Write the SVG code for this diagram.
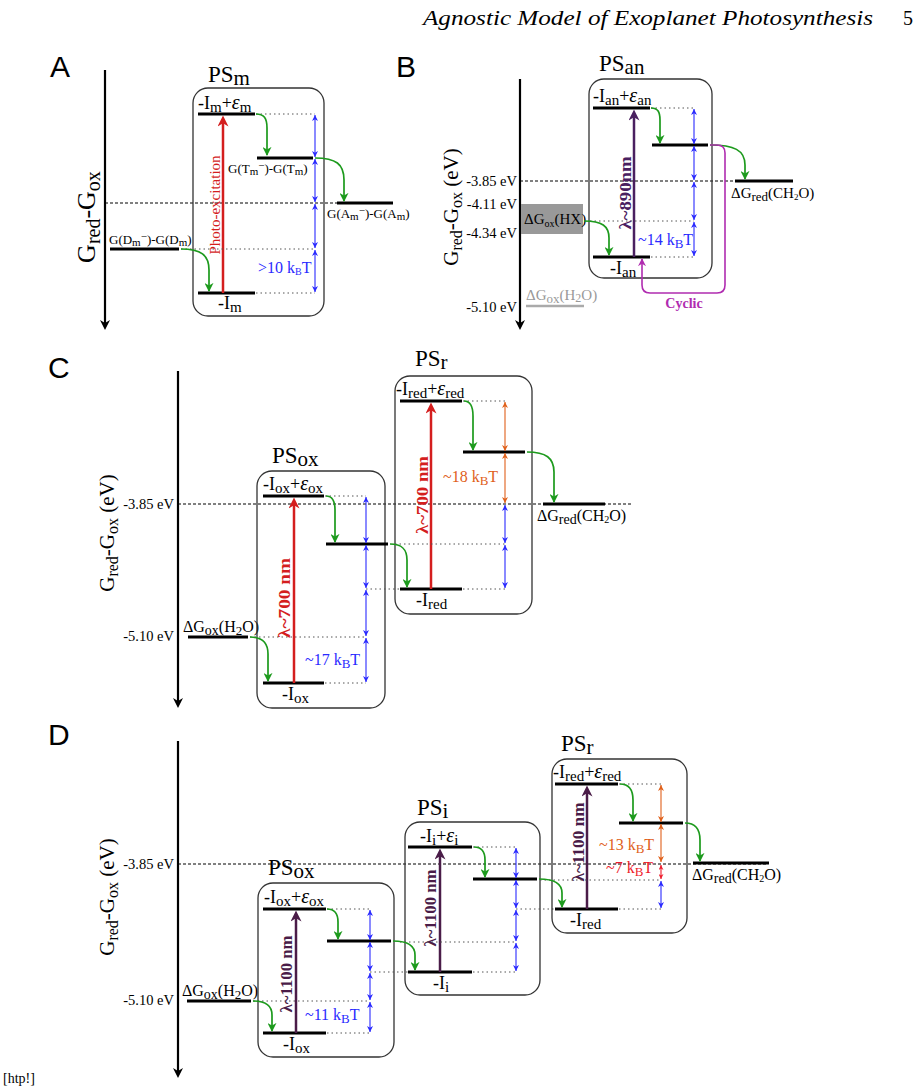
<svg xmlns="http://www.w3.org/2000/svg" width="922" height="1091" viewBox="0 0 922 1091">
<defs>
<style>
.t{font-family:"Liberation Serif","DejaVu Serif",serif}
.lt{font-family:"Liberation Sans",sans-serif;font-size:30px}
.lv{stroke:#000;stroke-width:3}
.dot{stroke:#555;stroke-width:1;stroke-dasharray:1.5 3}
.dash{stroke:#000;stroke-width:1;stroke-dasharray:3 2}
.box{fill:none;stroke:#333;stroke-width:1.3}
.ax{stroke:#000;stroke-width:2.2;marker-end:url(#axh)}
.g{fill:none;stroke:#1d9a1d;stroke-width:1.7;marker-end:url(#gh)}
.b{stroke:#2a2aff;stroke-width:1.1;marker-start:url(#bh);marker-end:url(#bh)}
.o{stroke:#e0601a;stroke-width:1.1;marker-start:url(#oh);marker-end:url(#oh)}
.rr{stroke:#ee1c2c;stroke-width:1.1;marker-start:url(#rh);marker-end:url(#rh)}
.red{stroke:#d41e1e;stroke-width:2.5;marker-end:url(#redH)}
.pur{stroke:#4a2060;stroke-width:2.5;marker-end:url(#purH)}
.dp{stroke:#4a1c48;stroke-width:2.5;marker-end:url(#dpH)}
.lab{font-size:18px}
.sb{font-size:15px}
.ep{font-style:italic;font-size:20px}
.sm{font-size:13px}
.tk{font-size:14.5px;text-anchor:end}
.ps{font-size:23px}
.pss{font-size:21px}
.axl{font-size:21px;text-anchor:middle}
.bl{fill:#2a2aff;font-size:16px}
.or{fill:#e0601a;font-size:16px}
.rd{fill:#ee1c2c;font-size:16px}
.lam{font-size:16px;font-weight:bold;text-anchor:middle}
</style>
<marker id="gh" viewBox="0 0 10 10" refX="9" refY="5" markerWidth="9" markerHeight="9" markerUnits="userSpaceOnUse" orient="auto"><path d="M0,0 L10,5 L0,10 L3,5 z" fill="#1d9a1d"/></marker>
<marker id="bh" viewBox="0 0 10 10" refX="10" refY="5" markerWidth="6" markerHeight="6" markerUnits="userSpaceOnUse" orient="auto-start-reverse"><path d="M0,0 L10,5 L0,10 L3,5 z" fill="#2a2aff"/></marker>
<marker id="oh" viewBox="0 0 10 10" refX="10" refY="5" markerWidth="6" markerHeight="6" markerUnits="userSpaceOnUse" orient="auto-start-reverse"><path d="M0,0 L10,5 L0,10 L3,5 z" fill="#e0601a"/></marker>
<marker id="rh" viewBox="0 0 10 10" refX="10" refY="5" markerWidth="5" markerHeight="5" markerUnits="userSpaceOnUse" orient="auto-start-reverse"><path d="M0,0 L10,5 L0,10 L3,5 z" fill="#ee1c2c"/></marker>
<marker id="redH" viewBox="0 0 10 10" refX="6" refY="5" markerWidth="13" markerHeight="11" markerUnits="userSpaceOnUse" orient="auto"><path d="M0,0 L10,5 L0,10 L3,5 z" fill="#d41e1e"/></marker>
<marker id="purH" viewBox="0 0 10 10" refX="6" refY="5" markerWidth="13" markerHeight="11" markerUnits="userSpaceOnUse" orient="auto"><path d="M0,0 L10,5 L0,10 L3,5 z" fill="#4a2060"/></marker>
<marker id="dpH" viewBox="0 0 10 10" refX="6" refY="5" markerWidth="13" markerHeight="11" markerUnits="userSpaceOnUse" orient="auto"><path d="M0,0 L10,5 L0,10 L3,5 z" fill="#4a1c48"/></marker>
<marker id="axh" viewBox="0 0 10 10" refX="6" refY="5" markerWidth="16" markerHeight="10" markerUnits="userSpaceOnUse" orient="auto"><path d="M0,0 L10,5 L0,10 L3,5 z" fill="#000"/></marker>
<marker id="mh" viewBox="0 0 10 10" refX="9" refY="5" markerWidth="8" markerHeight="9" markerUnits="userSpaceOnUse" orient="auto"><path d="M0,0 L10,5 L0,10 L3,5 z" fill="#b02cb0"/></marker>
</defs>
<rect width="922" height="1091" fill="#fff"/>

<!-- header -->
<text class="t" x="423" y="25" font-size="20" font-style="italic" textLength="450" lengthAdjust="spacingAndGlyphs">Agnostic Model of Exoplanet Photosynthesis</text>
<text class="t" x="903" y="25" font-size="20">5</text>
<text class="t" x="3" y="1083" font-size="14">[htp!]</text>

<!-- ================= PANEL A ================= -->
<g id="panelA">
<text class="lt" x="50" y="77">A</text>
<line class="ax" x1="105" y1="70" x2="105" y2="326"/>
<text class="t" font-size="26" text-anchor="middle" transform="translate(95,217) rotate(-90)">G<tspan font-size="20" dy="5">red</tspan><tspan dy="-5">-G</tspan><tspan font-size="20" dy="5">ox</tspan></text>
<line class="dash" x1="105" y1="203" x2="393" y2="203"/>
</g>
<g id="PSm">
<rect class="box" x="193" y="88" width="131" height="228" rx="15"/>
<text class="t ps" x="208" y="82">PS<tspan class="pss" dy="3">m</tspan></text>
<line class="lv" x1="198" y1="114" x2="255" y2="114"/>
<text class="t lab" x="198" y="109">-I<tspan class="sb" dy="3">m</tspan><tspan dy="-3">+</tspan><tspan class="ep">ε</tspan><tspan class="sb" dy="3">m</tspan></text>
<line class="lv" x1="257" y1="158" x2="313" y2="158"/>
<text class="t sm" x="228" y="173">G(T<tspan font-size="11" dy="2">m</tspan><tspan font-size="11" dy="-6">−</tspan><tspan dy="4">)-G(T</tspan><tspan font-size="11" dy="2">m</tspan><tspan dy="-2">)</tspan></text>
<line class="lv" x1="198" y1="293" x2="255" y2="293"/>
<text class="t lab" x="218" y="309">-I<tspan class="sb" dy="3">m</tspan></text>
<line class="red" x1="223" y1="293" x2="223" y2="120"/>
<text class="t" font-size="15" fill="#d41e1e" text-anchor="middle" transform="translate(220,205) rotate(-90)">Photo-excitation</text>
<line class="dot" x1="256" y1="114" x2="315" y2="114"/>
<line class="dot" x1="256" y1="293" x2="315" y2="293"/>
<line class="b" x1="315" y1="115" x2="315" y2="157"/>
<line class="b" x1="315" y1="159" x2="315" y2="202"/>
<line class="b" x1="315" y1="204" x2="315" y2="248"/>
<line class="b" x1="315" y1="250" x2="315" y2="292"/>
<text class="t bl" x="258" y="273">&gt;10 k<tspan font-size="10" dy="2">B</tspan><tspan dy="-2">T</tspan></text>
</g>
<g id="Am">
<line class="lv" x1="337" y1="203" x2="393" y2="203"/>
<text class="t sm" x="327" y="218">G(A<tspan font-size="11" dy="2">m</tspan><tspan font-size="11" dy="-6">−</tspan><tspan dy="4">)-G(A</tspan><tspan font-size="11" dy="2">m</tspan><tspan dy="-2">)</tspan></text>
</g>
<g id="Dm">
<line class="lv" x1="110" y1="249" x2="179" y2="249"/>
<text class="t sm" x="109" y="244">G(D<tspan font-size="11" dy="2">m</tspan><tspan font-size="11" dy="-6">−</tspan><tspan dy="4">)-G(D</tspan><tspan font-size="11" dy="2">m</tspan><tspan dy="-2">)</tspan></text>
<line class="dot" x1="181" y1="249" x2="315" y2="249"/>
</g>
<g id="connA">
<path class="g" d="M256,114 C264,114 267,118 267,128 L267,155"/>
<path class="g" d="M315,158 C336,158 344,164 344,180 L344,201"/>
<path class="g" d="M181,249 C201,249 209,255 209,270 L209,291"/>
</g>

<!-- ================= PANEL B ================= -->
<g id="panelB">
<text class="lt" x="396" y="77">B</text>
<line class="ax" x1="520" y1="79" x2="520" y2="326"/>
<text class="t axl" transform="translate(458,207) rotate(-90)">G<tspan font-size="16" dy="4">red</tspan><tspan dy="-4">-G</tspan><tspan font-size="16" dy="4">ox</tspan><tspan dy="-4"> (eV)</tspan></text>
<text class="t tk" x="517" y="186">-3.85 eV</text>
<text class="t tk" x="517" y="209">-4.11 eV</text>
<text class="t tk" x="517" y="238">-4.34 eV</text>
<text class="t tk" x="517" y="312">-5.10 eV</text>
<line class="dash" x1="520" y1="181" x2="793" y2="181"/>
</g>
<g id="HX">
<rect x="521" y="204" width="62" height="30" fill="#999"/>
<text class="t" x="524" y="224" font-size="15">ΔG<tspan font-size="10" dy="3">ox</tspan><tspan dy="-3">(HX)</tspan></text>
</g>
<g id="H2O_B">
<line x1="526" y1="306" x2="584" y2="306" stroke="#aaa" stroke-width="2.5"/>
<text class="t" x="526" y="300" font-size="15" fill="#999">ΔG<tspan font-size="13" dy="3">ox</tspan><tspan dy="-3">(H</tspan><tspan font-size="12" dy="2">2</tspan><tspan dy="-2">O)</tspan></text>
</g>
<g id="PSan">
<rect class="box" x="589" y="79" width="123" height="199" rx="15"/>
<text class="t ps" x="599" y="71">PS<tspan class="pss" dy="3">an</tspan></text>
<line class="lv" x1="593" y1="108" x2="650" y2="108"/>
<text class="t lab" x="593" y="102">-I<tspan class="sb" dy="3">an</tspan><tspan dy="-3">+</tspan><tspan class="ep">ε</tspan><tspan class="sb" dy="3">an</tspan></text>
<line class="lv" x1="652" y1="145" x2="708" y2="145"/>
<line class="lv" x1="593" y1="257" x2="650" y2="257"/>
<text class="t lab" x="610" y="274">-I<tspan class="sb" dy="3">an</tspan></text>
<line class="pur" x1="634" y1="257" x2="634" y2="114"/>
<text class="t lam" fill="#4a2060" transform="translate(631,193) rotate(-90)" textLength="73" lengthAdjust="spacingAndGlyphs">λ~890nm</text>
<line class="dot" x1="651" y1="108" x2="694" y2="108"/>
<line class="dot" x1="590" y1="221" x2="694" y2="221"/>
<line class="dot" x1="651" y1="257" x2="694" y2="257"/>
<line class="b" x1="694" y1="109" x2="694" y2="144"/>
<line class="b" x1="694" y1="146" x2="694" y2="180"/>
<line class="b" x1="694" y1="182" x2="694" y2="220"/>
<line class="b" x1="694" y1="222" x2="694" y2="256"/>
<text class="t bl" x="638" y="245">~14 k<tspan font-size="13" dy="3">B</tspan><tspan dy="-3">T</tspan></text>
</g>
<g id="CH2O_B">
<line class="lv" x1="735" y1="181" x2="793" y2="181"/>
<text class="t" x="731" y="198" font-size="15">ΔG<tspan font-size="13" dy="3">red</tspan><tspan dy="-3">(CH</tspan><tspan font-size="9" dy="2">2</tspan><tspan dy="-2">O)</tspan></text>
</g>
<g id="connB">
<path class="g" d="M651,108 C658,108 660,112 660,120 L660,143"/>
<path class="g" d="M710,145 C734,145 745,150 745,165 L745,179"/>
<path class="g" d="M584,221 C602,221 609,226 609,238 L609,255"/>
<path fill="none" stroke="#b02cb0" stroke-width="1.6" marker-end="url(#mh)" d="M710,145 L717,145 Q725,145 725,153 L725,285 Q725,293 717,293 L650,293 Q642,293 642,285 L642,259"/>
<text class="t" x="684" y="308" font-size="14" font-weight="bold" fill="#b02cb0" text-anchor="middle">Cyclic</text>
</g>

<!-- ================= PANEL C ================= -->
<g id="panelC">
<text class="lt" x="48" y="378">C</text>
<line class="ax" x1="178" y1="371" x2="178" y2="704"/>
<text class="t axl" transform="translate(114,533) rotate(-90)">G<tspan font-size="16" dy="4">red</tspan><tspan dy="-4">-G</tspan><tspan font-size="16" dy="4">ox</tspan><tspan dy="-4"> (eV)</tspan></text>
<text class="t tk" x="174" y="509">-3.85 eV</text>
<text class="t tk" x="174" y="641">-5.10 eV</text>
<line class="dash" x1="178" y1="504" x2="632" y2="504"/>
</g>
<g id="H2O_C">
<line class="lv" x1="188" y1="637" x2="248" y2="637"/>
<text class="t" x="183" y="632" font-size="16">ΔG<tspan font-size="14" dy="3">ox</tspan><tspan dy="-3">(H</tspan><tspan font-size="13" dy="3">2</tspan><tspan dy="-3">O)</tspan></text>
<line class="dot" x1="250" y1="637" x2="366" y2="637"/>
</g>
<g id="PSox_C">
<rect class="box" x="257" y="471" width="128" height="237" rx="15"/>
<text class="t ps" x="272" y="463">PS<tspan class="pss" dy="3">ox</tspan></text>
<line class="lv" x1="263" y1="496" x2="324" y2="496"/>
<text class="t lab" x="263" y="490">-I<tspan class="sb" dy="3">ox</tspan><tspan dy="-3">+</tspan><tspan class="ep">ε</tspan><tspan class="sb" dy="3">ox</tspan></text>
<line class="lv" x1="326" y1="544" x2="388" y2="544"/>
<line class="lv" x1="263" y1="683" x2="324" y2="683"/>
<text class="t lab" x="282" y="700">-I<tspan class="sb" dy="3">ox</tspan></text>
<line class="red" x1="294" y1="683" x2="294" y2="502"/>
<text class="t lam" fill="#d41e1e" transform="translate(290,598) rotate(-90)" textLength="80" lengthAdjust="spacingAndGlyphs">λ~700 nm</text>
<line class="dot" x1="325" y1="496" x2="366" y2="496"/>
<line class="dot" x1="325" y1="683" x2="366" y2="683"/>
<line class="dot" x1="366" y1="589" x2="400" y2="589"/>
<line class="b" x1="366" y1="497" x2="366" y2="543"/>
<line class="b" x1="366" y1="545" x2="366" y2="588"/>
<line class="b" x1="366" y1="590" x2="366" y2="636"/>
<line class="b" x1="366" y1="638" x2="366" y2="682"/>
<text class="t bl" x="305" y="665">~17 k<tspan font-size="13" dy="3">B</tspan><tspan dy="-3">T</tspan></text>
</g>
<g id="PSr_C">
<rect class="box" x="395" y="376" width="137" height="238" rx="15"/>
<text class="t ps" x="415" y="366">PS<tspan class="pss" dy="3">r</tspan></text>
<line class="lv" x1="400" y1="401" x2="462" y2="401"/>
<text class="t lab" x="396" y="395">-I<tspan class="sb" dy="3">red</tspan><tspan dy="-3">+</tspan><tspan class="ep">ε</tspan><tspan class="sb" dy="3">red</tspan></text>
<line class="lv" x1="463" y1="452" x2="525" y2="452"/>
<line class="lv" x1="400" y1="589" x2="462" y2="589"/>
<text class="t lab" x="416" y="606">-I<tspan class="sb" dy="3">red</tspan></text>
<line class="red" x1="431" y1="589" x2="431" y2="407"/>
<text class="t lam" fill="#d41e1e" transform="translate(428,495) rotate(-90)" textLength="78" lengthAdjust="spacingAndGlyphs">λ~700 nm</text>
<line class="dot" x1="463" y1="401" x2="505" y2="401"/>
<line class="dot" x1="395" y1="544" x2="505" y2="544"/>
<line class="dot" x1="463" y1="589" x2="505" y2="589"/>
<line class="o" x1="505" y1="402" x2="505" y2="451"/>
<line class="o" x1="505" y1="453" x2="505" y2="503"/>
<line class="b" x1="505" y1="505" x2="505" y2="543"/>
<line class="b" x1="505" y1="545" x2="505" y2="588"/>
<text class="t or" x="443" y="482">~18 k<tspan font-size="13" dy="3">B</tspan><tspan dy="-3">T</tspan></text>
</g>
<g id="CH2O_C">
<line class="lv" x1="543" y1="504" x2="605" y2="504"/>
<text class="t" x="537" y="521" font-size="16">ΔG<tspan font-size="14" dy="3">red</tspan><tspan dy="-3">(CH</tspan><tspan font-size="10" dy="2">2</tspan><tspan dy="-2">O)</tspan></text>
</g>
<g id="connC">
<path class="g" d="M326,496 C332,496 335,500 335,510 L335,542"/>
<path class="g" d="M390,544 C402,544 407,549 407,560 L407,587"/>
<path class="g" d="M250,637 C262,637 268,642 268,654 L268,681"/>
<path class="g" d="M464,401 C470,401 473,406 473,416 L473,450"/>
<path class="g" d="M527,452 C546,452 554,458 554,472 L554,502"/>
</g>

<!-- ================= PANEL D ================= -->
<g id="panelD">
<text class="lt" x="48" y="745">D</text>
<line class="ax" x1="178" y1="741" x2="178" y2="1074"/>
<text class="t axl" transform="translate(114,897) rotate(-90)">G<tspan font-size="16" dy="4">red</tspan><tspan dy="-4">-G</tspan><tspan font-size="16" dy="4">ox</tspan><tspan dy="-4"> (eV)</tspan></text>
<text class="t tk" x="174" y="869">-3.85 eV</text>
<text class="t tk" x="174" y="1005">-5.10 eV</text>
<line class="dash" x1="178" y1="864" x2="768" y2="864"/>
</g>
<g id="H2O_D">
<line class="lv" x1="187" y1="1001" x2="251" y2="1001"/>
<text class="t" x="182" y="996" font-size="16">ΔG<tspan font-size="14" dy="3">ox</tspan><tspan dy="-3">(H</tspan><tspan font-size="13" dy="3">2</tspan><tspan dy="-3">O)</tspan></text>
<line class="dot" x1="253" y1="1001" x2="370" y2="1001"/>
</g>
<g id="PSox_D">
<rect class="box" x="258" y="883" width="136" height="174" rx="15"/>
<text class="t ps" x="268" y="875">PS<tspan class="pss" dy="3">ox</tspan></text>
<line class="lv" x1="263" y1="909" x2="326" y2="909"/>
<text class="t lab" x="264" y="903">-I<tspan class="sb" dy="3">ox</tspan><tspan dy="-3">+</tspan><tspan class="ep">ε</tspan><tspan class="sb" dy="3">ox</tspan></text>
<line class="lv" x1="327" y1="941" x2="391" y2="941"/>
<line class="lv" x1="263" y1="1033" x2="326" y2="1033"/>
<text class="t lab" x="283" y="1050">-I<tspan class="sb" dy="3">ox</tspan></text>
<line class="dp" x1="296" y1="1033" x2="296" y2="915"/>
<text class="t lam" fill="#4a1c48" transform="translate(292,974) rotate(-90)" textLength="77" lengthAdjust="spacingAndGlyphs">λ~1100 nm</text>
<line class="dot" x1="327" y1="909" x2="370" y2="909"/>
<line class="dot" x1="327" y1="1033" x2="370" y2="1033"/>
<line class="dot" x1="370" y1="972" x2="408" y2="972"/>
<line class="b" x1="370" y1="910" x2="370" y2="940"/>
<line class="b" x1="370" y1="942" x2="370" y2="971"/>
<line class="b" x1="370" y1="973" x2="370" y2="1000"/>
<line class="b" x1="370" y1="1002" x2="370" y2="1032"/>
<text class="t bl" x="305" y="1020">~11 k<tspan font-size="13" dy="3">B</tspan><tspan dy="-3">T</tspan></text>
</g>
<g id="PSi_D">
<rect class="box" x="405" y="822" width="135" height="173" rx="15"/>
<text class="t ps" x="417" y="815">PS<tspan class="pss" dy="3">i</tspan></text>
<line class="lv" x1="408" y1="847" x2="472" y2="847"/>
<text class="t lab" x="420" y="842">-I<tspan class="sb" dy="3">i</tspan><tspan dy="-3">+</tspan><tspan class="ep">ε</tspan><tspan class="sb" dy="3">i</tspan></text>
<line class="lv" x1="473" y1="879" x2="537" y2="879"/>
<line class="lv" x1="408" y1="972" x2="472" y2="972"/>
<text class="t lab" x="433" y="989">-I<tspan class="sb" dy="3">i</tspan></text>
<line class="dp" x1="440" y1="972" x2="440" y2="853"/>
<text class="t lam" fill="#4a1c48" transform="translate(436,908) rotate(-90)" textLength="77" lengthAdjust="spacingAndGlyphs">λ~1100 nm</text>
<line class="dot" x1="473" y1="847" x2="516" y2="847"/>
<line class="dot" x1="400" y1="942" x2="516" y2="942"/>
<line class="dot" x1="473" y1="972" x2="516" y2="972"/>
<line class="dot" x1="516" y1="909" x2="555" y2="909"/>
<line class="b" x1="516" y1="848" x2="516" y2="878"/>
<line class="b" x1="516" y1="880" x2="516" y2="908"/>
<line class="b" x1="516" y1="910" x2="516" y2="941"/>
<line class="b" x1="516" y1="943" x2="516" y2="971"/>
</g>
<g id="PSr_D">
<rect class="box" x="552" y="759" width="135" height="174" rx="15"/>
<text class="t ps" x="561" y="751">PS<tspan class="pss" dy="3">r</tspan></text>
<line class="lv" x1="555" y1="784" x2="618" y2="784"/>
<text class="t lab" x="553" y="778">-I<tspan class="sb" dy="3">red</tspan><tspan dy="-3">+</tspan><tspan class="ep">ε</tspan><tspan class="sb" dy="3">red</tspan></text>
<line class="lv" x1="619" y1="823" x2="683" y2="823"/>
<line class="lv" x1="555" y1="909" x2="618" y2="909"/>
<text class="t lab" x="570" y="926">-I<tspan class="sb" dy="3">red</tspan></text>
<line class="dp" x1="587" y1="909" x2="587" y2="790"/>
<text class="t lam" fill="#4a1c48" transform="translate(584,842) rotate(-90)" textLength="79" lengthAdjust="spacingAndGlyphs">λ~1100 nm</text>
<line class="dot" x1="619" y1="784" x2="661" y2="784"/>
<line class="dot" x1="540" y1="880" x2="661" y2="880"/>
<line class="dot" x1="619" y1="909" x2="661" y2="909"/>
<line class="o" x1="661" y1="785" x2="661" y2="822"/>
<line class="o" x1="661" y1="824" x2="661" y2="862"/>
<line class="rr" x1="661" y1="865" x2="661" y2="879"/>
<line class="b" x1="661" y1="881" x2="661" y2="908"/>
<text class="t or" x="599" y="850">~13 k<tspan font-size="13" dy="3">B</tspan><tspan dy="-3">T</tspan></text>
<text class="t rd" x="606" y="873">~7 k<tspan font-size="13" dy="3">B</tspan><tspan dy="-3">T</tspan></text>
</g>
<g id="CH2O_D">
<line class="lv" x1="693" y1="863" x2="769" y2="863"/>
<text class="t" x="692" y="880" font-size="16">ΔG<tspan font-size="14" dy="3">red</tspan><tspan dy="-3">(CH</tspan><tspan font-size="10" dy="2">2</tspan><tspan dy="-2">O)</tspan></text>
</g>
<g id="connD">
<path class="g" d="M327,909 C334,909 338,913 338,922 L338,939"/>
<path class="g" d="M393,941 C408,941 415,946 415,955 L415,970"/>
<path class="g" d="M253,1001 C266,1001 272,1006 272,1015 L272,1031"/>
<path class="g" d="M474,847 C481,847 485,851 485,860 L485,877"/>
<path class="g" d="M539,879 C554,879 562,884 562,893 L562,907"/>
<path class="g" d="M620,784 C628,784 633,789 633,800 L633,821"/>
<path class="g" d="M685,823 C695,823 700,828 700,840 L700,861"/>
</g>
</svg>
